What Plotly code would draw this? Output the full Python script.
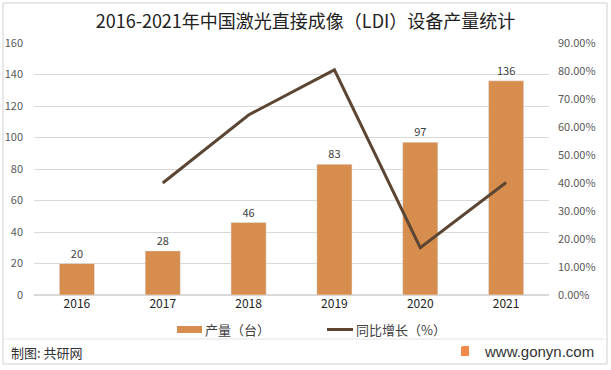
import plotly.graph_objects as go

years = ["2016", "2017", "2018", "2019", "2020", "2021"]
output = [20, 28, 46, 83, 97, 136]
growth = [None, 0.40, 0.643, 0.804, 0.169, 0.402]
bar_name = "产量（台）"
line_name = "同比增长（%）"

FONT = "Noto Sans CJK SC"
BAR_COLOR = "#D68D4E"
LINE_COLOR = "#5C4633"
W, H = 611, 370
L, R, T, B = 34, 62, 43, 75
PW, PH = W - L - R, H - T - B


def px(x):
    return (x - L) / PW


def py(y):
    return (H - B - y) / PH


fig = go.Figure()
fig.add_trace(go.Bar(
    x=years, y=output, name=bar_name, marker_color=BAR_COLOR, width=0.41,
    text=[str(v) for v in output], textposition="outside",
    textfont=dict(size=11, color="#404040", family=FONT), cliponaxis=False,
))
fig.add_trace(go.Scatter(
    x=years, y=growth, name=line_name, mode="lines", yaxis="y2",
    line=dict(color=LINE_COLOR, width=3), connectgaps=False,
))

fig.update_layout(
    width=W, height=H,
    margin=dict(l=L, r=R, t=T, b=B, autoexpand=False),
    paper_bgcolor="white", plot_bgcolor="white",
    font=dict(family=FONT, size=11, color="#595959"),
    title=dict(text="2016-2021年中国激光直接成像（LDI）设备产量统计",
               x=0.5, xanchor="center", y=1 - 22 / H, yanchor="middle",
               font=dict(size=18, color="#222222", family=FONT)),
    xaxis=dict(type="category", showgrid=False, showline=False, ticks="", automargin=False,
               tickfont=dict(size=12, color="#222222", family=FONT)),
    yaxis=dict(range=[0, 160], dtick=20, showgrid=True, gridcolor="#D9D9D9", automargin=False,
               zeroline=True, zerolinecolor="#D9D9D9", showline=False, ticks="",
               ticklabelstandoff=10, tickfont=dict(size=11, color="#595959")),
    yaxis2=dict(range=[0, 0.9], dtick=0.1, tickformat=".2%", overlaying="y", side="right",
                showgrid=False, zeroline=False, showline=False, ticks="", automargin=False,
                ticklabelstandoff=8, tickfont=dict(size=11, color="#595959")),
    showlegend=False,
)

# custom legend
fig.add_shape(type="rect", xref="paper", yref="paper",
              x0=px(177), x1=px(202), y0=py(333), y1=py(326),
              line=dict(width=0), fillcolor=BAR_COLOR)
fig.add_annotation(text=bar_name, xref="paper", yref="paper",
                   x=px(203), y=py(329.5), xanchor="left", yanchor="middle", showarrow=False,
                   font=dict(size=13, color="#404040", family=FONT))
fig.add_shape(type="line", xref="paper", yref="paper",
              x0=px(327), x1=px(353), y0=py(329.5), y1=py(329.5),
              line=dict(color=LINE_COLOR, width=3))
fig.add_annotation(text=line_name, xref="paper", yref="paper",
                   x=px(354), y=py(329.5), xanchor="left", yanchor="middle", showarrow=False,
                   font=dict(size=13, color="#404040", family=FONT))

# outer frame
fig.add_shape(type="rect", xref="paper", yref="paper",
              x0=px(3), x1=px(607), y0=py(364), y1=py(3),
              line=dict(color="#D0D0D0", width=1))
# footer separator
fig.add_shape(type="line", xref="paper", yref="paper",
              x0=px(5), x1=px(605), y0=py(339), y1=py(339),
              line=dict(color="#E3E3E3", width=1))
fig.add_annotation(text="制图: 共研网", xref="paper", yref="paper",
                   x=px(9), y=py(352), xanchor="left", yanchor="middle",
                   showarrow=False, font=dict(size=13, color="#333333", family=FONT))
fig.add_annotation(text="www.gonyn.com", xref="paper", yref="paper",
                   x=px(596), y=py(351), xanchor="right", yanchor="middle",
                   showarrow=False, font=dict(size=15, color="#333333", family="Liberation Sans"))
fig.add_shape(type="rect", xref="paper", yref="paper",
              x0=px(461), x1=px(469), y0=py(356), y1=py(346),
              line=dict(width=0), fillcolor="#F08A4B")
fig.add_annotation(text="<b>G</b>", xref="paper", yref="paper",
                   x=px(465), y=py(351), showarrow=False,
                   font=dict(size=8, color="white", family="Liberation Sans"))

fig.write_html("out.html", config={"displayModeBar": False},
               post_script="document.body.style.margin='0';")
